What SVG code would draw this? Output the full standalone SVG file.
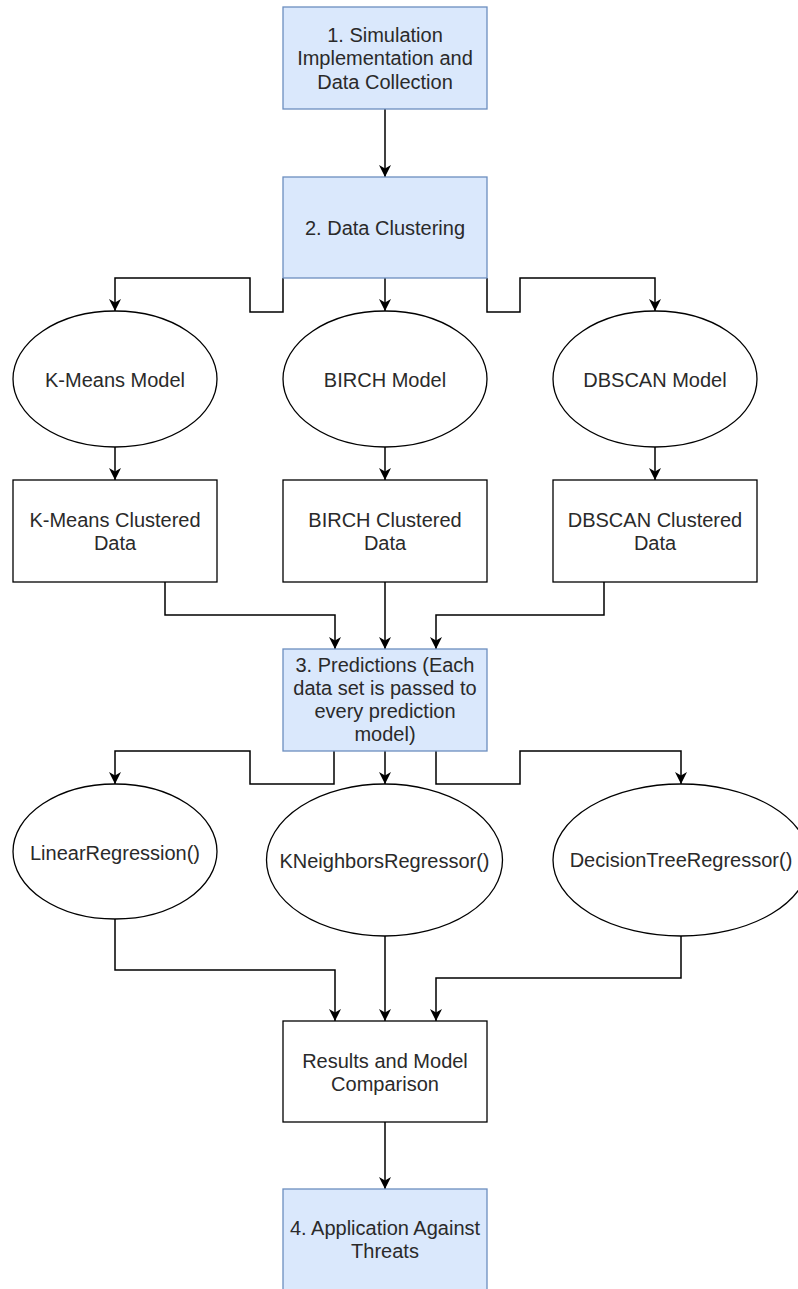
<svg xmlns="http://www.w3.org/2000/svg" width="798" height="1289" viewBox="0 0 798 1289">
<style>
.blue{fill:#dae8fc;stroke:#6c8ebf;stroke-width:1.3}
.plain{fill:#ffffff;stroke:#000000;stroke-width:1.3}
.lbl{font-family:"Liberation Sans",Arial,Helvetica,sans-serif;font-size:20px;fill:#2a2a2a;text-anchor:middle}
.edge{fill:none;stroke:#000000;stroke-width:1.5;marker-end:url(#arr)}
</style>
<defs>
<marker id="arr" viewBox="0 0 10 10" refX="10" refY="5" markerWidth="13" markerHeight="12" markerUnits="userSpaceOnUse" orient="auto">
<path d="M0,0 L10,5 L0,10 L3,5 Z" fill="#000000"/>
</marker>
</defs>
<rect width="798" height="1289" fill="#ffffff"/>
<g id="connectors">
<path class="edge" d="M385,109 V177"/>
<path class="edge" d="M283,278 V312 H250 V278 H115 V311"/>
<path class="edge" d="M385,278 V311"/>
<path class="edge" d="M487,278 V312 H520 V278 H655 V311"/>
<path class="edge" d="M115,447 V480"/>
<path class="edge" d="M385,447 V480"/>
<path class="edge" d="M655,447 V480"/>
<path class="edge" d="M165,582 V615 H335 V649"/>
<path class="edge" d="M385,582 V649"/>
<path class="edge" d="M604,582 V615 H436 V649"/>
<path class="edge" d="M334,751 V784 H250 V751 H115 V784"/>
<path class="edge" d="M385,751 V784"/>
<path class="edge" d="M436,751 V784 H520 V751 H681 V784"/>
<path class="edge" d="M115,919 V970 H335 V1021"/>
<path class="edge" d="M385,936 V1021"/>
<path class="edge" d="M681,936 V978 H436 V1021"/>
<path class="edge" d="M385,1122 V1189"/>
</g>
<g id="n1">
<rect class="blue" x="283" y="7" width="204" height="102"/>
<text class="lbl" x="385" y="42">1. Simulation</text>
<text class="lbl" x="385" y="65">Implementation and</text>
<text class="lbl" x="385" y="89">Data Collection</text>
</g>
<g id="n2">
<rect class="blue" x="283" y="177" width="204" height="101"/>
<text class="lbl" x="385" y="235">2. Data Clustering</text>
</g>
<g id="kmeans">
<ellipse class="plain" cx="115" cy="379" rx="102" ry="68"/>
<text class="lbl" x="115" y="387">K-Means Model</text>
</g>
<g id="birch">
<ellipse class="plain" cx="385" cy="379" rx="102" ry="68"/>
<text class="lbl" x="385" y="387">BIRCH Model</text>
</g>
<g id="dbscan">
<ellipse class="plain" cx="655" cy="379" rx="102" ry="68"/>
<text class="lbl" x="655" y="387">DBSCAN Model</text>
</g>
<g id="kmeansData">
<rect class="plain" x="13" y="480" width="204" height="102"/>
<text class="lbl" x="115" y="527">K-Means Clustered</text>
<text class="lbl" x="115" y="550">Data</text>
</g>
<g id="birchData">
<rect class="plain" x="283" y="480" width="204" height="102"/>
<text class="lbl" x="385" y="527">BIRCH Clustered</text>
<text class="lbl" x="385" y="550">Data</text>
</g>
<g id="dbscanData">
<rect class="plain" x="553" y="480" width="204" height="102"/>
<text class="lbl" x="655" y="527">DBSCAN Clustered</text>
<text class="lbl" x="655" y="550">Data</text>
</g>
<g id="n3">
<rect class="blue" x="283" y="649" width="204" height="102"/>
<text class="lbl" x="385" y="672">3. Predictions (Each</text>
<text class="lbl" x="385" y="695">data set is passed to</text>
<text class="lbl" x="385" y="718">every prediction</text>
<text class="lbl" x="385" y="741">model)</text>
</g>
<g id="linreg">
<ellipse class="plain" cx="115" cy="851.5" rx="102" ry="67.5"/>
<text class="lbl" x="115" y="860">LinearRegression()</text>
</g>
<g id="knn">
<ellipse class="plain" cx="384.5" cy="860" rx="118" ry="76"/>
<text class="lbl" x="384.5" y="868">KNeighborsRegressor()</text>
</g>
<g id="dtree">
<ellipse class="plain" cx="681" cy="860" rx="128" ry="76"/>
<text class="lbl" x="681" y="867">DecisionTreeRegressor()</text>
</g>
<g id="results">
<rect class="plain" x="283" y="1021" width="204" height="101"/>
<text class="lbl" x="385" y="1068">Results and Model</text>
<text class="lbl" x="385" y="1091">Comparison</text>
</g>
<g id="n4">
<rect class="blue" x="283" y="1189" width="204" height="102"/>
<text class="lbl" x="385" y="1235">4. Application Against</text>
<text class="lbl" x="385" y="1258">Threats</text>
</g>
</svg>
